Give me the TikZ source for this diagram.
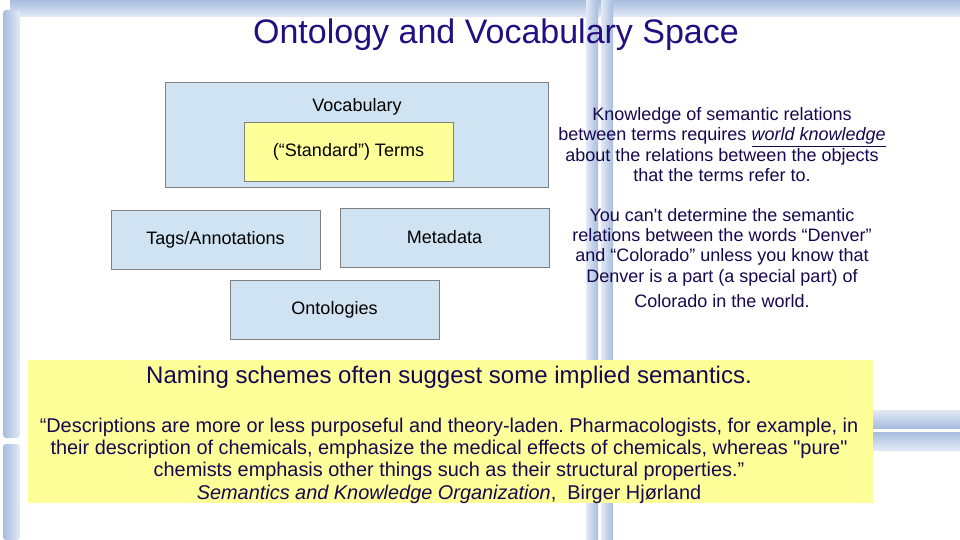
\documentclass[tikz,border=0pt]{standalone}
\usepackage{fontspec}
\setmainfont{Liberation Sans}[Ligatures=TeXOff]
\usetikzlibrary{positioning}

\definecolor{boxblue}{RGB}{207,227,242}
\definecolor{boxline}{RGB}{128,128,128}
\definecolor{termyellow}{RGB}{255,255,153}
\definecolor{titleblue}{RGB}{35,15,130}
\definecolor{textblue}{RGB}{22,8,80}
\definecolor{framelight}{RGB}{226,234,246}
\definecolor{framedark}{RGB}{168,188,222}

\begin{document}
\frenchspacing
\begin{tikzpicture}[x=1pt, y=-1pt, align=center,
  box/.style={rectangle, draw=boxline, fill=boxblue, minimum width=209pt,
    minimum height=59pt, inner sep=0pt, font=\fontsize{18}{21}\selectfont},
  terms/.style={box, fill=termyellow},
  side/.style={font=\fontsize{18}{20.3}\selectfont, text=textblue},
  quote/.style={font=\fontsize{19.9}{22.4}\selectfont, text=textblue} ]

\useasboundingbox (0,0) rectangle (960,540);

% Frame strokes
\shade[top color=framedark, bottom color=framelight] (10,0) rectangle (960,17);
\foreach \y/\h in {10/438, 444/540} { \shade[left color=framedark, right
  color=framelight, rounded corners=3pt] (3,\y) rectangle (20,\h); }
\foreach \x in {586, 601} { \shade[left color=framelight, right
  color=framedark] (\x,0) rectangle (\x+12,540); }
\shade[top color=framelight, bottom color=framedark] (870,410) rectangle
  (960,428); \shade[top color=framedark, bottom color=framelight] (870,432)
  rectangle (960,450);

% Title
\node[font=\fontsize{34}{38}\selectfont, text=titleblue] (title) at (496,35)
  {Ontology and Vocabulary Space};

% Vocabulary and terms
\node[box, minimum width=383pt, minimum height=105pt] (vocab) at (356.5,134.5)
  {}; \node[font=\fontsize{18}{21}\selectfont] (vocablabel) at (357,107)
  {Vocabulary};
\node[terms, text height=13pt] (terms) at (348.5,151.5) {(“Standard”) Terms};

% Other boxes
\node[box, text height=13pt] (tags) at (215.5,239.5) {Tags/Annotations};
\node[box, text height=13pt] (meta) at (444.5,237.5) {Metadata};
\node[box, text height=13pt] (onto) at (334.5,309.5) {Ontologies};

% Side notes
\node[side] (know) at (722,144.5) {Knowledge of semantic relations\\ between
  terms requires \underline{\textit{world knowledge}}\\ about the relations
  between the objects\\ that the terms refer to.};
\node[side] (denver) at (722,258) {You can't determine the semantic\\
  relations between the words “Denver”\\ and “Colorado” unless you know
  that\\ Denver is a part (a special part) of\\[5pt] Colorado in the world.};

% Yellow note
\node[rectangle, fill=termyellow, minimum width=845pt, minimum height=143pt]
  (note) at (450.5,431.5) {};
\node[font=\fontsize{24}{28}\selectfont, text=textblue] (naming) at (449,377)
  {Naming schemes often suggest some implied semantics.};
\node[quote] (hjorland) at (449,460.5) {“Descriptions are more or less
  purposeful and theory-laden. Pharmacologists, for example, in\\ their
  description of chemicals, emphasize the medical effects of chemicals,
  whereas "pure"\\ chemists emphasis other things such as their structural
  properties.”\\ \textit{Semantics and Knowledge Organization}, \ Birger
  Hjørland};

\end{tikzpicture}
\end{document}
